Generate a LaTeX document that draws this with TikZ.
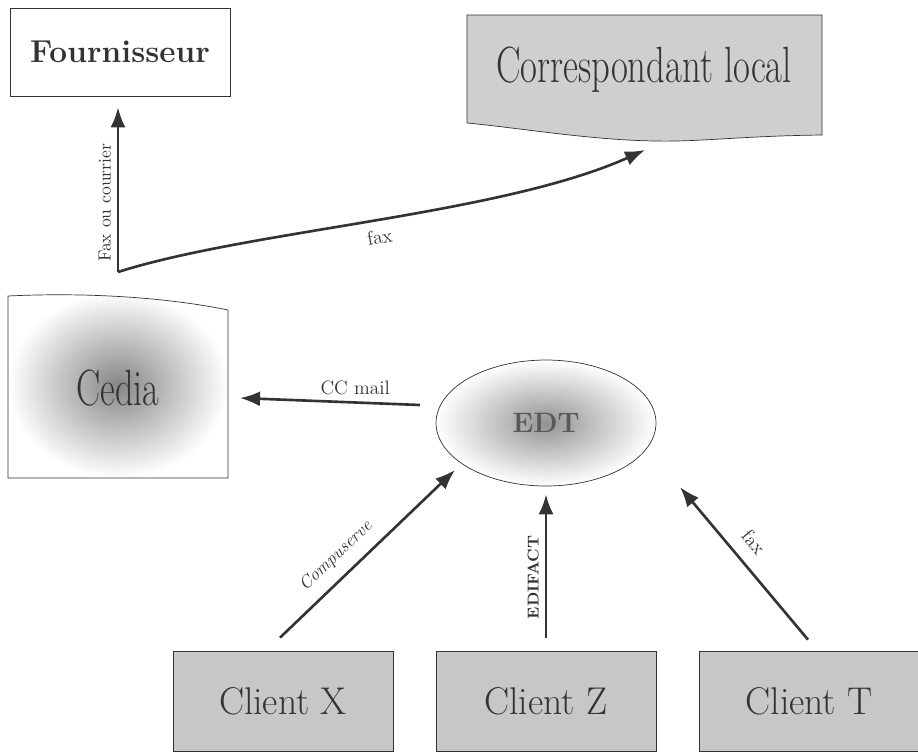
\documentclass[tikz,border=0pt]{standalone}
\usepackage{graphicx}
\usepackage{tikz}
\usetikzlibrary{arrows.meta}
\usetikzlibrary{shapes.geometric,positioning}

\definecolor{ink}{gray}{0.2}
\definecolor{boxgray}{gray}{0.78}
\newcommand{\cond}[2]{\scalebox{#1}[1]{#2}}

\begin{document}
\begin{tikzpicture}[x=0.02cm,y=-0.02cm,
        flow/.style={-{Latex[length=4mm,width=3mm]},line width=1.5pt,draw=ink},
        client/.style={draw=ink,fill=boxgray,minimum width=4.4cm,minimum height=2cm,
            font=\fontsize{22}{22}\selectfont,text=ink},
        lbl/.style={font=\fontsize{10}{10}\selectfont,text=ink}]
        \useasboundingbox (0,0) rectangle (918,751);

        \node [draw=ink,fill=white,minimum width=4.4cm,minimum height=1.76cm,
            font=\bfseries\fontsize{18}{18}\selectfont,text=ink] (four) at (120,52) {Fournisseur};

        \filldraw [draw=ink,fill=boxgray!85] (467,15) -- (822,15) -- (822,135)
            .. controls (740,136) and (700,142) .. (655,141)
            .. controls (590,140) and (520,128) .. (467,123) -- cycle;
        \node [font=\fontsize{29}{29}\selectfont,text=ink] (corr) at (644,70) {\cond{0.72}{Correspondant local}};

        \shadedraw [draw=ink,inner color=gray!95,outer color=white] (8,296)
            .. controls (90,292) and (170,298) .. (228,310) -- (228,478) -- (8,478) -- cycle;
        \node [font=\fontsize{29}{29}\selectfont,text=ink] (cedia) at (118,388) {\cond{0.71}{Cedia}};

        \node [ellipse,draw=ink,inner color=gray!85,outer color=white,minimum width=4.4cm,minimum height=2.52cm,
            font=\bfseries\fontsize{16}{16}\selectfont,text=black!65] (edt) at (546,423) {EDT};

        \node [client] (clientx) at (283,701) {\cond{0.97}{Client X}};
        \node [client] (clientz) at (546,701) {\cond{0.97}{Client Z}};
        \node [client] (clientt) at (809,701) {\cond{0.97}{Client T}};

        \coordinate (fork) at ([shift={(0,-116)}]cedia.center);

        \draw [flow] (fork) -- node [lbl,sloped,above,pos=0.42] {Fax ou courrier} ([shift={(0,11)}]four.south -| fork);
        \draw [flow] (fork) .. controls (250,230) and (500,215) .. node [lbl,sloped,below=2pt,pos=0.5,font=\fontsize{11}{11}\selectfont] {fax} ([shift={(1,80)}]corr.center);

        \draw [flow] ([shift={(-126,-18)}]edt.center) -- node [lbl,above,pos=0.36,font=\fontsize{11}{11}\selectfont] {CC mail} ([shift={(122,10)}]cedia.center);

        \draw [flow] ([shift={(-3,-13)}]clientx.north) -- node [lbl,sloped,above=3pt,pos=0.4] {\itshape Compuserve} ([shift={(-91,47)}]edt.center);
        \draw [flow] ([shift={(0,-13)}]clientz.north) -- node [lbl,sloped,above,pos=0.42,font=\bfseries\fontsize{9}{9}\selectfont] {EDIFACT} ([shift={(0,8)}]edt.south);
        \draw [flow] ([shift={(-1,-11)}]clientt.north) -- node [lbl,sloped,above=4pt,pos=0.55,font=\fontsize{11}{11}\selectfont] {fax} ([shift={(134,64)}]edt.center);
    \end{tikzpicture}
\end{document}
